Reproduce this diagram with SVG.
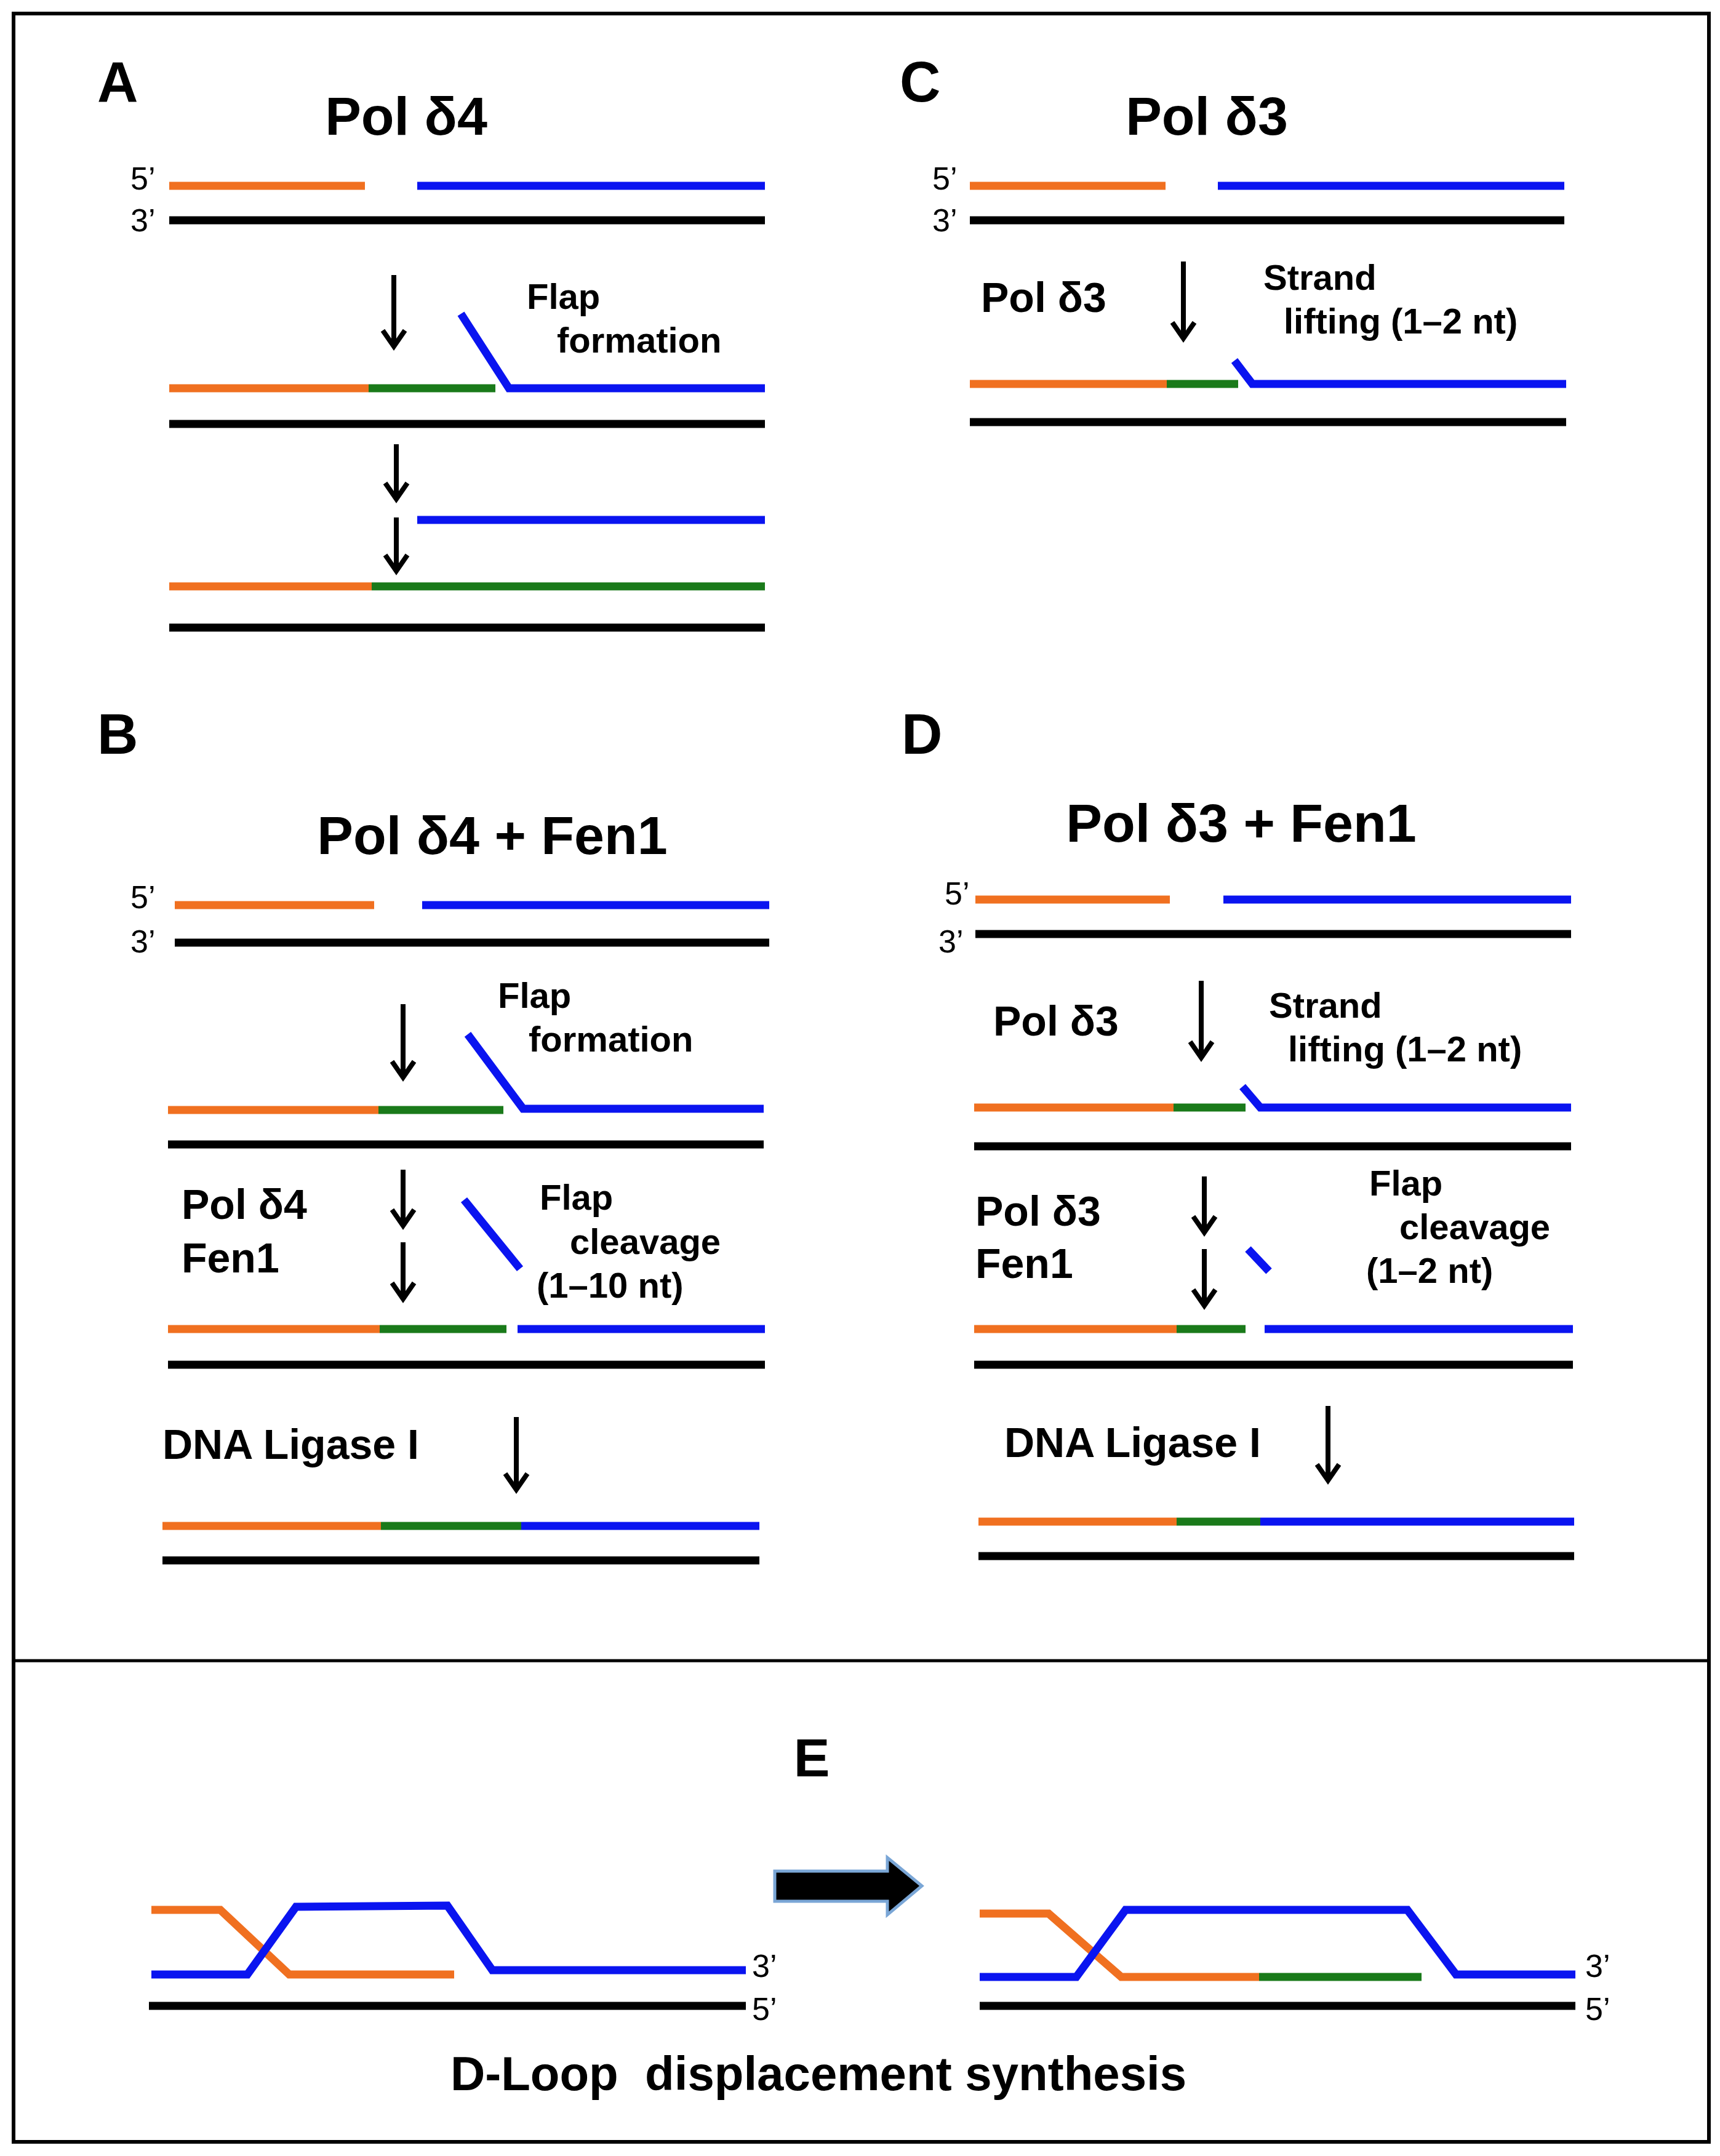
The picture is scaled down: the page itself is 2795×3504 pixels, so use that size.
<svg xmlns="http://www.w3.org/2000/svg" width="2795" height="3504" viewBox="0 0 2795 3504">
<style>
.o{stroke:#f07020;stroke-width:13;fill:none}
.b{stroke:#0a14f0;stroke-width:13;fill:none}
.g{stroke:#1a7a1a;stroke-width:13;fill:none}
.k{stroke:#000;stroke-width:13;fill:none}
.ar{stroke:#000;stroke-width:8;fill:none;marker-end:url(#ah)}
text{font-family:"Liberation Sans",Arial,sans-serif;fill:#000;dominant-baseline:central}
.t{font-size:88px;font-weight:bold;text-anchor:middle}
.L{font-size:92px;font-weight:bold}
.p{font-size:52px}
.l{font-size:58px;font-weight:bold}
.m{font-size:68px;font-weight:bold}
</style>
<defs>
<marker id="ah" markerUnits="userSpaceOnUse" markerWidth="48" markerHeight="48" refX="34" refY="24" orient="auto">
<path d="M8,6 L34,24 L8,42" stroke="#000" stroke-width="8" fill="none"/>
</marker>
</defs>
<rect width="2795" height="3504" fill="#fff"/>
<rect x="22" y="22" width="2755" height="3459" fill="none" stroke="#000" stroke-width="6"/>
<line x1="22" y1="2699" x2="2777" y2="2699" stroke="#000" stroke-width="5"/>

<g id="panelA">
<text class="L" x="158" y="133">A</text>
<text class="t" x="660" y="188">Pol δ4</text>
<text class="p" x="212" y="290">5’</text><text class="p" x="212" y="358">3’</text>
<line class="o" x1="275" y1="302" x2="593" y2="302"/><line class="b" x1="678" y1="302" x2="1243" y2="302"/>
<line class="k" x1="275" y1="358" x2="1243" y2="358"/>
<text class="l" x="856" y="481">Flap</text><text class="l" x="905" y="552">formation</text>
<line class="o" x1="275" y1="631" x2="599" y2="631"/><line class="g" x1="599" y1="631" x2="805" y2="631"/>
<polyline class="b" points="749,510 827,631 1243,631"/>
<line class="k" x1="275" y1="689" x2="1243" y2="689"/>
<line class="b" x1="678" y1="845" x2="1243" y2="845"/>
<line class="o" x1="275" y1="953" x2="604" y2="953"/><line class="g" x1="604" y1="953" x2="1243" y2="953"/>
<line class="k" x1="275" y1="1020" x2="1243" y2="1020"/>
</g>

<g id="panelC">
<text class="L" x="1462" y="133">C</text>
<text class="t" x="1961" y="188">Pol δ3</text>
<text class="p" x="1515" y="290">5’</text><text class="p" x="1515" y="358">3’</text>
<line class="o" x1="1576" y1="302" x2="1894" y2="302"/><line class="b" x1="1979" y1="302" x2="2542" y2="302"/>
<line class="k" x1="1576" y1="358" x2="2542" y2="358"/>
<text class="m" x="1594" y="483">Pol δ3</text>
<text class="l" x="2053" y="450">Strand</text><text class="l" x="2086" y="521">lifting (1–2 nt)</text>
<line class="o" x1="1576" y1="624" x2="1896" y2="624"/><line class="g" x1="1896" y1="624" x2="2012" y2="624"/>
<polyline class="b" points="2006,586 2035,624 2545,624"/>
<line class="k" x1="1576" y1="686" x2="2545" y2="686"/>
</g>

<g id="panelB">
<text class="L" x="158" y="1193">B</text>
<text class="t" x="800" y="1357">Pol δ4 + Fen1</text>
<text class="p" x="212" y="1458">5’</text><text class="p" x="212" y="1530">3’</text>
<line class="o" x1="284" y1="1471" x2="608" y2="1471"/><line class="b" x1="686" y1="1471" x2="1250" y2="1471"/>
<line class="k" x1="284" y1="1532" x2="1250" y2="1532"/>
<text class="l" x="809" y="1617">Flap</text><text class="l" x="859" y="1688">formation</text>
<line class="o" x1="273" y1="1804" x2="615" y2="1804"/><line class="g" x1="615" y1="1804" x2="818" y2="1804"/>
<polyline class="b" points="760,1681 850,1802 1241,1802"/>
<line class="k" x1="273" y1="1860" x2="1241" y2="1860"/>
<text class="m" x="295" y="1957">Pol δ4</text><text class="m" x="295" y="2044">Fen1</text>
<line class="b" x1="754" y1="1950" x2="845" y2="2062"/>
<text class="l" x="877" y="1945">Flap</text><text class="l" x="926" y="2017">cleavage</text><text class="l" x="872" y="2088">(1–10 nt)</text>
<line class="o" x1="273" y1="2160" x2="617" y2="2160"/><line class="g" x1="617" y1="2160" x2="823" y2="2160"/><line class="b" x1="841" y1="2160" x2="1243" y2="2160"/>
<line class="k" x1="273" y1="2218" x2="1243" y2="2218"/>
<text class="m" x="264" y="2347">DNA Ligase I</text>
<line class="o" x1="264" y1="2480" x2="619" y2="2480"/><line class="g" x1="619" y1="2480" x2="847" y2="2480"/><line class="b" x1="847" y1="2480" x2="1234" y2="2480"/>
<line class="k" x1="264" y1="2536" x2="1234" y2="2536"/>
</g>

<g id="panelD">
<text class="L" x="1465" y="1193">D</text>
<text class="t" x="2017" y="1337">Pol δ3 + Fen1</text>
<text class="p" x="1535" y="1452">5’</text><text class="p" x="1525" y="1530">3’</text>
<line class="o" x1="1585" y1="1462" x2="1901" y2="1462"/><line class="b" x1="1988" y1="1462" x2="2553" y2="1462"/>
<line class="k" x1="1585" y1="1518" x2="2553" y2="1518"/>
<text class="m" x="1614" y="1659">Pol δ3</text>
<text class="l" x="2062" y="1633">Strand</text><text class="l" x="2093" y="1704">lifting (1–2 nt)</text>
<line class="o" x1="1583" y1="1800" x2="1907" y2="1800"/><line class="g" x1="1907" y1="1800" x2="2024" y2="1800"/>
<polyline class="b" points="2019,1766 2048,1800 2553,1800"/>
<line class="k" x1="1583" y1="1863" x2="2553" y2="1863"/>
<text class="m" x="1585" y="1968">Pol δ3</text><text class="m" x="1585" y="2053">Fen1</text>
<line class="b" x1="2028" y1="2030" x2="2062" y2="2066"/>
<text class="l" x="2225" y="1922">Flap</text><text class="l" x="2274" y="1993">cleavage</text><text class="l" x="2220" y="2064">(1–2 nt)</text>
<line class="o" x1="1583" y1="2160" x2="1912" y2="2160"/><line class="g" x1="1912" y1="2160" x2="2024" y2="2160"/><line class="b" x1="2055" y1="2160" x2="2556" y2="2160"/>
<line class="k" x1="1583" y1="2218" x2="2556" y2="2218"/>
<text class="m" x="1632" y="2344">DNA Ligase I</text>
<line class="o" x1="1590" y1="2473" x2="1912" y2="2473"/><line class="g" x1="1912" y1="2473" x2="2048" y2="2473"/><line class="b" x1="2048" y1="2473" x2="2558" y2="2473"/>
<line class="k" x1="1590" y1="2529" x2="2558" y2="2529"/>
</g>

<g id="panelE">
<text class="t" x="1319" y="2856">E</text>
<polyline class="o" points="246,3104 358,3104 470,3209 738,3209"/>
<polyline class="b" points="246,3209 402,3209 481,3099 727,3097 800,3202 1212,3202"/>
<line class="k" x1="242" y1="3260" x2="1212" y2="3260"/>
<text class="p" x="1222" y="3195">3’</text><text class="p" x="1222" y="3265">5’</text>
<polygon points="1259,3041 1442,3041 1442,3019 1498,3065 1442,3112 1442,3090 1259,3090" fill="#000" stroke="#7aa6d6" stroke-width="5"/>
<polyline class="o" points="1592,3110 1704,3110 1822,3213 2046,3213"/>
<line class="g" x1="2046" y1="3213" x2="2310" y2="3213"/>
<polyline class="b" points="1592,3213 1749,3213 1829,3104 2287,3104 2366,3209 2560,3209"/>
<line class="k" x1="1592" y1="3260" x2="2560" y2="3260"/>
<text class="p" x="2576" y="3195">3’</text><text class="p" x="2576" y="3265">5’</text>
<text class="t" x="1330" y="3370" style="font-size:78px;white-space:pre" xml:space="preserve">D-Loop  displacement synthesis</text>
</g>

<g id="connectors">
<line class="ar" x1="640" y1="447" x2="640" y2="563"/>
<line class="ar" x1="644" y1="722" x2="644" y2="811"/>
<line class="ar" x1="644" y1="841" x2="644" y2="928"/>
<line class="ar" x1="1923" y1="425" x2="1923" y2="550"/>
<line class="ar" x1="655" y1="1632" x2="655" y2="1751"/>
<line class="ar" x1="655" y1="1901" x2="655" y2="1992"/>
<line class="ar" x1="655" y1="2019" x2="655" y2="2111"/>
<line class="ar" x1="839" y1="2303" x2="839" y2="2421"/>
<line class="ar" x1="1952" y1="1594" x2="1952" y2="1719"/>
<line class="ar" x1="1957" y1="1912" x2="1957" y2="2003"/>
<line class="ar" x1="1957" y1="2030" x2="1957" y2="2122"/>
<line class="ar" x1="2158" y1="2285" x2="2158" y2="2406"/>
</g>
</svg>
